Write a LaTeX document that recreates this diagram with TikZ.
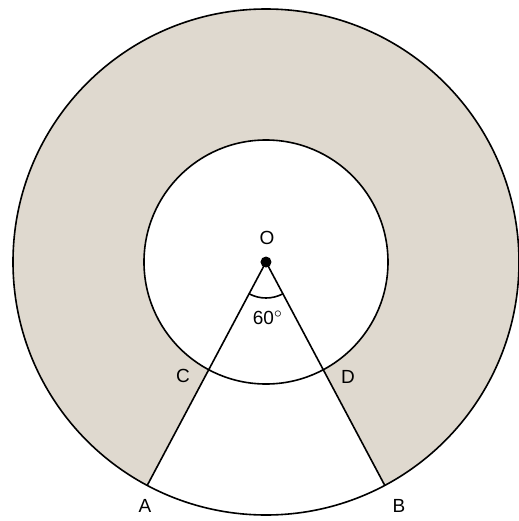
\documentclass[tikz,border=0pt]{standalone}
\usepackage{fontspec}
\setmainfont{Liberation Sans}
\usepackage{xcolor}
\usetikzlibrary{positioning,calc}
\definecolor{ringfill}{RGB}{223,217,207}

\begin{document}
\begin{tikzpicture}[x=0.5pt, y=0.5pt,
  line width=0.8pt,
  lbl/.style={inner sep=0pt, font=\fontsize{9.5}{11}\selectfont},
  pt/.style={circle, fill=black, inner sep=0pt, minimum size=5.5pt}]
\useasboundingbox (-266,-259) rectangle (253,262);
% centre and the points on the circles
\coordinate (O) at (0,0);
\coordinate (A) at (-118:253);
\coordinate (B) at (-62:253);
\coordinate (C) at (-118:122);
\coordinate (D) at (-62:122);
% shaded ring, with the cut-out sector
\fill[ringfill] (O) circle (253);
\fill[white] (O) circle (122);
\fill[white] (O) -- (A) arc (-118:-62:253) -- cycle;
\draw (O) circle (253);
\draw (O) circle (122);
\draw (O) -- (A);
\draw (O) -- (B);
\draw (-118:36) arc (-118:-62:36);
\node[pt] (dotO) at (O) {};
\node[lbl] (labO) at (1,24) {O};
\node[lbl] (ang) at (2,-56) {60$^\circ$};
\node[lbl] (labC) at (-83,-114) {C};
\node[lbl] (labD) at (82,-115) {D};
\node[lbl] (labA) at (-121,-244) {A};
\node[lbl] (labB) at (133,-244) {B};
\end{tikzpicture}
\end{document}
